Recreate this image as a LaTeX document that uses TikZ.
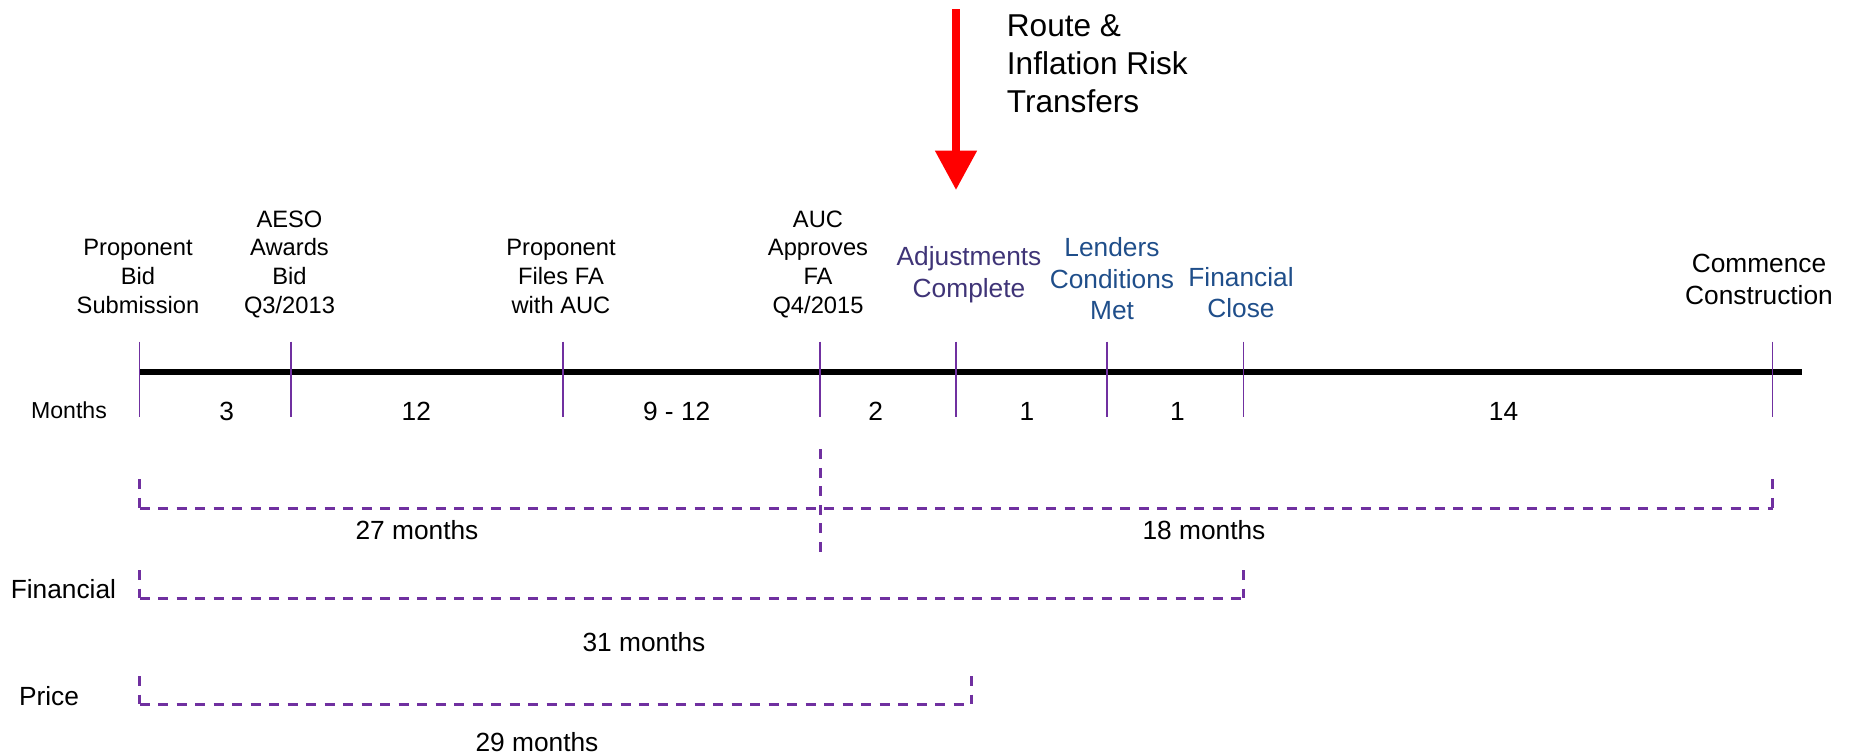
\documentclass[tikz,border=0pt]{standalone}
\usepackage{fontspec}
\setmainfont{Liberation Sans}
\usetikzlibrary{arrows.meta}
\definecolor{tickpurple}{HTML}{7030A0}
\definecolor{adjpurple}{HTML}{3F3477}
\definecolor{lendblue}{HTML}{1F4E8A}
\definecolor{arrowred}{HTML}{FF0000}
\begin{document}
\begin{tikzpicture}[x=1pt,y=-1pt,
  lbl/.style={align=center,inner sep=0pt,text depth=0pt,anchor=south,font=\fontsize{23.7pt}{28.7pt}\selectfont},
  blbl/.style={align=center,inner sep=0pt,text depth=0pt,anchor=south,font=\fontsize{26.3pt}{31.5pt}\selectfont},
  num/.style={inner sep=0pt,anchor=base,font=\fontsize{26.3pt}{31.5pt}\selectfont},
  smalltxt/.style={inner sep=0pt,anchor=base,font=\fontsize{23.1pt}{28pt}\selectfont},
  tickmark/.style={draw=tickpurple,line width=1.8pt},
  spanline/.style={draw=tickpurple,line width=3pt,dash pattern=on 10pt off 8.5pt},
  mainline/.style={draw=black,line width=5.5pt}]
\useasboundingbox (0,0) rectangle (1854,755);

% timeline
\coordinate (start) at (139.5,372);
\coordinate (finish) at (1802,372);
\draw[mainline] (start) -- (finish);

\foreach \n/\x in {1/139.5,2/291,3/563,4/820,5/956,6/1107,7/1243.5,8/1772.5}{
  \coordinate (tt\n) at (\x,341.7);
  \coordinate (tb\n) at (\x,417.3);
  \draw[tickmark] (tt\n) -- (tb\n);
}

% milestone labels
\node[lbl] (bid) at (138,313.5) {Proponent\\Bid\\Submission};
\node[lbl] (aeso) at (289.5,313.5) {AESO\\Awards\\Bid\\Q3/2013};
\node[lbl] (files) at (561,313.5) {Proponent\\Files FA\\with AUC};
\node[lbl] (auc) at (818,313.5) {AUC\\Approves\\FA\\Q4/2015};
\node[blbl,text=adjpurple] (adj) at (969,297.5) {Adjustments\\Complete};
\node[blbl,text=lendblue] (lend) at (1112,320) {Lenders\\Conditions\\Met};
\node[blbl,text=lendblue] (fin) at (1241,318) {Financial\\Close};
\node[blbl] (cc) at (1759,304.4) {Commence\\Construction};

% red arrow and text
\coordinate (arrtop) at (956,9.3);
\coordinate (arrtip) at (956,190);
\draw[draw=arrowred,line width=7.7pt,-{Triangle[length=39.3pt,width=40pt,fill=arrowred]}] (arrtop) -- (arrtip);
\node[align=left,anchor=south west,inner sep=0pt,text depth=0pt,font=\fontsize{31.6pt}{38.3pt}\selectfont] (route) at (1006.7,113) {Route \&\\Inflation Risk\\Transfers};

% months row
\node[smalltxt] (months) at (69,418.3) {Months};
\node[num] (m1) at (226.8,420) {3};
\node[num] (m2) at (416.3,420) {12};
\node[num] (m3) at (676.7,420) {9 - 12};
\node[num] (m4) at (875.8,420) {2};
\node[num] (m5) at (1027,420) {1};
\node[num] (m6) at (1177.5,420) {1};
\node[num] (m7) at (1503.6,420) {14};

% spans
\coordinate (a1) at (139.5,479.3);
\coordinate (a2) at (139.5,508.3);
\coordinate (a3) at (1772.5,508.3);
\coordinate (a4) at (1772.5,479.3);
\draw[spanline] (a1) -- (a2);
\draw[spanline] (a2) -- (a3);
\draw[spanline] (a4) -- (a3);
\coordinate (v1) at (820,449.3);
\coordinate (v2) at (820,553.3);
\draw[spanline] (v1) -- (v2);
\node[num] (s27) at (417,539.4) {27 months};
\node[num] (s18) at (1204,539.4) {18 months};

\coordinate (f1) at (139.5,570);
\coordinate (f2) at (139.5,598.3);
\coordinate (f3) at (1243.5,598.3);
\coordinate (f4) at (1243.5,570);
\draw[spanline] (f1) -- (f2);
\draw[spanline] (f2) -- (f3);
\draw[spanline] (f4) -- (f3);
\node[num] (finl) at (63.4,598.4) {Financial};
\node[num] (s31) at (644,651) {31 months};

\coordinate (p1) at (139.5,676);
\coordinate (p2) at (139.5,704.3);
\coordinate (p3) at (971,704.3);
\coordinate (p4) at (971,676);
\draw[spanline] (p1) -- (p2);
\draw[spanline] (p2) -- (p3);
\draw[spanline] (p4) -- (p3);
\node[num] (pricel) at (49,705.4) {Price};
\node[num] (s29) at (537,751.4) {29 months};
\end{tikzpicture}
\end{document}
